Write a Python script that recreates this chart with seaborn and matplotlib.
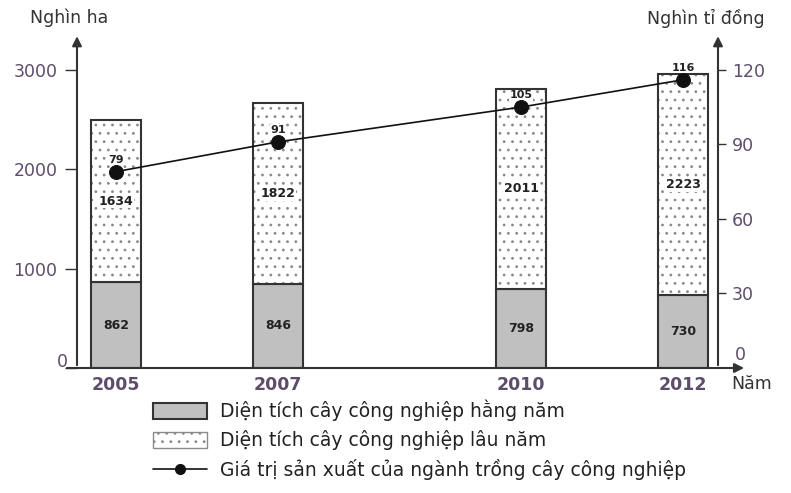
import numpy as np
import matplotlib
matplotlib.use("Agg")
import matplotlib.pyplot as plt
import seaborn as sns
from matplotlib.patches import Patch
from matplotlib.lines import Line2D

# ------------------------------------------------------------
# Data
# ------------------------------------------------------------
years = [2005, 2007, 2010, 2012]
annual_area = [862, 846, 798, 730]        # nghin ha
perennial_area = [1634, 1822, 2011, 2223]  # nghin ha
prod_value = [79, 91, 105, 116]            # nghin ti dong

left_ticks = [0, 1000, 2000, 3000]
right_ticks = [0, 30, 60, 90, 120]

sns.set_style("white")
plt.rcParams["font.family"] = ["DejaVu Sans"]
plt.rcParams["hatch.linewidth"] = 0.8

tick_color = "#5d4d6b"
edge = "#333333"
dot_col = "#8a8a8a"

fig = plt.figure(figsize=(7.91, 4.93), dpi=100)
ax = fig.add_axes([77 / 791, 1 - 368 / 493, (718 - 77) / 791, 328 / 493])
ax2 = ax.twinx()

# ------------------------------------------------------------
# Stacked bars
# ------------------------------------------------------------
bar_w = 0.62
ax.bar(years, annual_area, width=bar_w, color="#c0c0c0", edgecolor=edge, linewidth=1.5, zorder=2)
# dotted fill (light dots) then dark outline
ax.bar(years, perennial_area, bottom=annual_area, width=bar_w, color="white",
       edgecolor=dot_col, hatch="..", linewidth=0, zorder=2)
ax.bar(years, perennial_area, bottom=annual_area, width=bar_w, fill=False,
       edgecolor=edge, linewidth=1.5, zorder=3)

for x, a, p in zip(years, annual_area, perennial_area):
    ax.text(x, a / 2, str(a), ha="center", va="center", fontsize=9, color="#222222",
            fontweight="bold", zorder=4)
    ax.text(x, a + p / 2, str(p), ha="center", va="center", fontsize=9, color="#222222",
            fontweight="bold", zorder=4,
            bbox=dict(facecolor="white", edgecolor="none", pad=0.5))

# ------------------------------------------------------------
# Line on secondary axis
# ------------------------------------------------------------
sns.lineplot(x=years, y=prod_value, ax=ax2, color="#111111", linewidth=1.2,
             marker="o", markersize=10, markeredgecolor="#111111", zorder=5)
for x, v in zip(years, prod_value):
    ax2.text(x, v + 2.8, str(v), ha="center", va="bottom", fontsize=8,
             fontweight="bold", color="#222222",
             bbox=dict(facecolor="white", edgecolor="none", pad=0.3))

# ------------------------------------------------------------
# Axes styling
# ------------------------------------------------------------
ax.set_xlim(2004.52, 2012.43)
ax.set_ylim(0, 3300)
ax2.set_ylim(0, 132)
ax.set_xticks(years)
ax.set_xticklabels([str(y) for y in years], fontsize=12.5, fontweight="bold", color=tick_color)
ax.set_yticks(left_ticks)
ax.set_yticklabels([""] + [str(t) for t in left_ticks[1:]], fontsize=12.5, color=tick_color)
ax2.set_yticks(right_ticks[1:])
ax2.set_yticklabels([str(t) for t in right_ticks[1:]], fontsize=12.5, color=tick_color)

# zero labels sit a little above the baseline
ax.text(-0.014, 0.018, str(left_ticks[0]), transform=ax.transAxes, ha="right", va="center",
        fontsize=12.5, color=tick_color)
ax2.text(1.027, 0.04, str(right_ticks[0]), transform=ax2.transAxes, ha="left", va="center",
         fontsize=12.5, color=tick_color)

for a in (ax, ax2):
    for s in a.spines.values():
        s.set_visible(False)
ax.tick_params(axis="y", direction="out", length=9, width=1, color=edge, pad=5, left=True)
ax.tick_params(axis="x", length=0, pad=6)
ax2.tick_params(axis="y", direction="out", length=6, width=1, color=edge, pad=4, right=True)

# axis lines with arrow heads
arrow = dict(arrowstyle="-|>", color=edge, lw=1.5, mutation_scale=14)
ax.annotate("", xy=(0, 1.02), xytext=(0, 0), xycoords="axes fraction", arrowprops=arrow)
ax.annotate("", xy=(1, 1.02), xytext=(1, 0), xycoords="axes fraction", arrowprops=arrow)
ax.annotate("", xy=(1.045, 0), xytext=(-0.02, 0), xycoords="axes fraction", arrowprops=arrow)

fig.text(30 / 791, 1 - 18 / 493, "Nghìn ha", fontsize=12.5, color="#333333", va="center")
fig.text(647 / 791, 1 - 18 / 493, "Nghìn tỉ đồng", fontsize=12.5, color="#333333", va="center")
fig.text(731 / 791, 1 - 384 / 493, "Năm", fontsize=12.5, color="#333333", va="center")

# ------------------------------------------------------------
# Legend
# ------------------------------------------------------------
handles = [
    Patch(facecolor="#c0c0c0", edgecolor=edge, linewidth=1.5),
    Patch(facecolor="white", edgecolor=dot_col, hatch="..", linewidth=1.0),
    Line2D([0], [0], color="#111111", marker="o", markersize=7, linewidth=1.2),
]
labels = [
    "Diện tích cây công nghiệp hằng năm",
    "Diện tích cây công nghiệp lâu năm",
    "Giá trị sản xuất của ngành trồng cây công nghiệp",
]
fig.legend(handles, labels, loc="upper left", bbox_to_anchor=(136 / 791, 1 - 383 / 493),
           frameon=False, fontsize=13.5, handlelength=2.9, handleheight=1.0,
           labelspacing=0.48, handletextpad=0.7, labelcolor="#222222")

fig.savefig("out.png", dpi=100)
